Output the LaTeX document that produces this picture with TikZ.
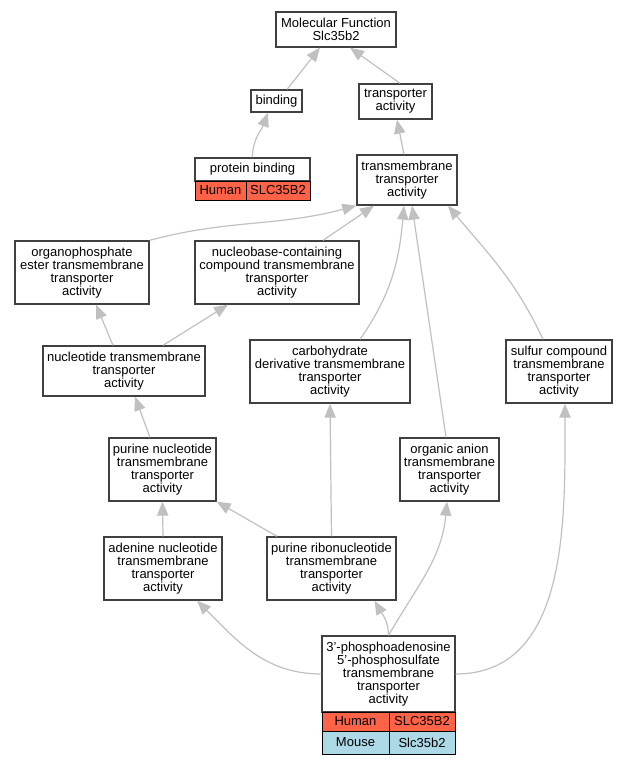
\documentclass[tikz,border=0pt]{standalone}
\usepackage{fontspec}
\setmainfont{Liberation Sans}
\usetikzlibrary{positioning,arrows.meta}
\definecolor{human}{HTML}{FF6347}
\definecolor{mouse}{HTML}{ADD8E6}
\definecolor{edgegray}{HTML}{C0C0C0}
\tikzset{
    term/.style={draw=black!75, line width=1pt, fill=white, align=center, inner sep=0pt,
                 font=\fontsize{9.75}{9.75}\selectfont},
    fourline/.style={term, minimum height=47.25pt},
    cell/.style={term, draw=black, line width=0.75pt},
    isa/.style={draw=edgegray, line width=0.9pt, -{Triangle[length=10.5pt,width=8.5pt]}}
}
\begin{document}
\begin{tikzpicture}[x=0.75pt,y=-0.75pt]
\useasboundingbox (0,0) rectangle (629,765);
% Nodes
\node[term, minimum width=90pt, minimum height=26.25pt] (mf) at (336,29.5) {Molecular Function\\Slc35b2};
\node[term, minimum width=38.25pt, minimum height=16.5pt] (bind) at (276.5,101) {binding};
\node[term, minimum width=54.75pt, minimum height=26.25pt] (ta) at (395.5,101.5) {transporter\\activity};
\node[term, minimum width=86.25pt, minimum height=17.25pt] (pb) at (252.5,169.5) {protein binding};
\node[cell, minimum width=38.25pt, minimum height=14.25pt, fill=human] (pbh) at (220.5,190.5) {Human};
\node[cell, minimum width=48pt, minimum height=14.25pt, fill=human] (pbg) at (278,190.5) {SLC35B2};
\node[term, minimum width=75pt, minimum height=37.5pt] (tta) at (407,180) {transmembrane\\transporter\\activity};
\node[fourline, minimum width=100.5pt] (org) at (82,272.5) {organophosphate\\ester transmembrane\\transporter\\activity};
\node[fourline, minimum width=123pt] (nb) at (277,272.5) {nucleobase-containing\\compound transmembrane\\transporter\\activity};
\node[term, minimum width=121.5pt, minimum height=37.5pt] (nt) at (124,371) {nucleotide transmembrane\\transporter\\activity};
\node[fourline, minimum width=120pt] (carb) at (330,371.5) {carbohydrate\\derivative transmembrane\\transporter\\activity};
\node[fourline, minimum width=79.5pt] (sulf) at (559,371.5) {sulfur compound\\transmembrane\\transporter\\activity};
\node[fourline, minimum width=80.25pt] (pn) at (162.5,469.5) {purine nucleotide\\transmembrane\\transporter\\activity};
\node[fourline, minimum width=74.25pt] (oa) at (449.5,469.5) {organic anion\\transmembrane\\transporter\\activity};
\node[fourline, minimum width=88.5pt] (an) at (163,568.5) {adenine nucleotide\\transmembrane\\transporter\\activity};
\node[fourline, minimum width=96.75pt] (pr) at (331.5,568.5) {purine ribonucleotide\\transmembrane\\transporter\\activity};
\node[term, minimum width=99.75pt, minimum height=57pt] (paps) at (388.5,674) {3'-phosphoadenosine\\5'-phosphosulfate\\transmembrane\\transporter\\activity};
\node[cell, minimum width=50.25pt, minimum height=14.25pt, fill=human] (pah) at (355.5,721.5) {Human};
\node[cell, minimum width=49.5pt, minimum height=14.25pt, fill=human] (pag) at (422,721.5) {SLC35B2};
\node[cell, minimum width=50.25pt, minimum height=17.25pt, fill=mouse] (pam) at (355.5,742.5) {Mouse};
\node[cell, minimum width=49.5pt, minimum height=17.25pt, fill=mouse] (pamg) at (422,742.5) {Slc35b2};
% Edges
\draw[isa] ([xshift=7.9pt]bind.north) -- ([xshift=-12pt]mf.south);
\draw[isa] ([xshift=3.4pt]ta.north) -- ([xshift=10.5pt]mf.south);
\draw[isa] (pb.north) to[out=90,in=-110] ([xshift=-6.4pt]bind.south);
\draw[isa] ([xshift=-2.25pt]tta.north) -- ([xshift=1.1pt]ta.south);
\draw[isa] (org.north east) to[out=15,in=195] (tta.south west);
\draw[isa] ([xshift=34.5pt]nb.north) -- ([xshift=-24.75pt]tta.south);
\draw[isa] ([xshift=22.5pt]carb.north) to[out=55,in=-95] ([xshift=-2.25pt]tta.south);
\draw[isa] ([xshift=-2.6pt]oa.north) -- ([xshift=3.75pt]tta.south);
\draw[isa] ([xshift=-12pt]sulf.north) to[out=115,in=-50] ([xshift=30.75pt]tta.south);
\draw[isa] ([xshift=-8.25pt]nt.north) -- ([xshift=10.5pt]org.south);
\draw[isa] ([xshift=29.25pt]nt.north) -- ([xshift=-36.75pt]nb.south);
\draw[isa] ([xshift=-9.4pt]pn.north) -- ([xshift=8.25pt]nt.south);
\draw[isa] (an.north) -- (pn.south);
\draw[isa] ([xshift=-40.9pt]pr.north) -- (pn.south east);
\draw[isa] (pr.north) -- (carb.south);
\draw[isa] (paps.west) to[out=180,in=-45] ([xshift=25.5pt]an.south);
\draw[isa] (paps.north) to[out=90,in=-60] ([xshift=32.25pt]pr.south);
\draw[isa] (paps.north) to[out=60,in=-95] ([xshift=-1.9pt]oa.south);
\draw[isa] (paps.east) to[out=0,in=-90] ([xshift=4.5pt]sulf.south);
\end{tikzpicture}
\end{document}
